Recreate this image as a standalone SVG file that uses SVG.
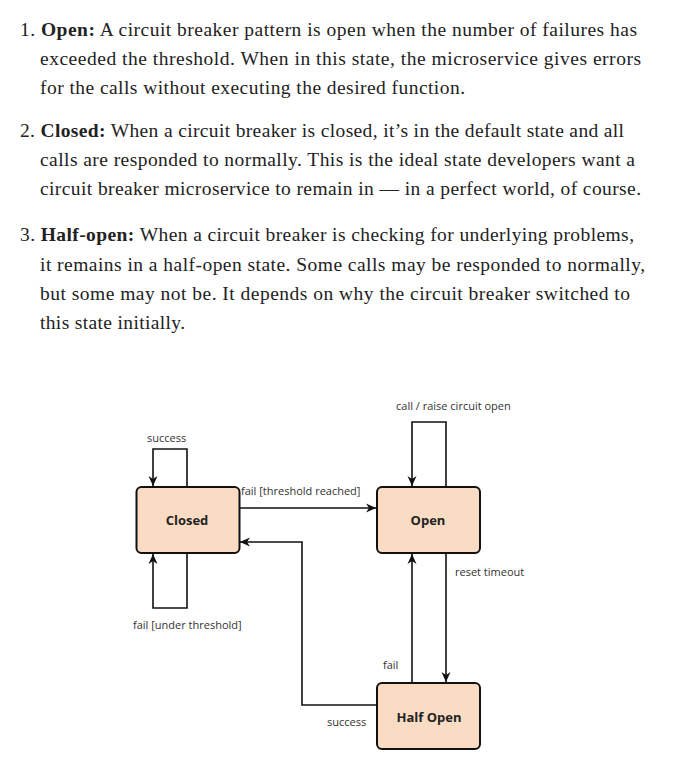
<svg xmlns="http://www.w3.org/2000/svg" width="676" height="775" viewBox="0 0 676 775">
<style>
.p{font-family:"Liberation Serif","DejaVu Serif",serif;font-size:19.5px;fill:#222}
.b{font-weight:bold}
.lbl{font-family:"Open Sans","DejaVu Sans",sans-serif;font-size:11px;fill:#333}
.node rect{fill:#fadcc4;stroke:#111;stroke-width:2}
.node text{font-family:"Open Sans","DejaVu Sans",sans-serif;font-size:13px;font-weight:bold;fill:#222;text-anchor:middle}
.conn path{fill:none;stroke:#111;stroke-width:1.6}
</style>
<defs>
<marker id="ah" markerUnits="userSpaceOnUse" markerWidth="12" markerHeight="12" viewBox="0 0 12 12" refX="11" refY="6" orient="auto">
<path d="M1,1.5 L11,6 L1,10.5 L4,6 z" fill="#111"/>
</marker>
</defs>
<rect width="676" height="775" fill="#fff"/>
<g id="text">
<text class="p" x="20" y="36" textLength="617" lengthAdjust="spacing">1. <tspan class="b">Open:</tspan> A circuit breaker pattern is open when the number of failures has</text>
<text class="p" x="40" y="65" textLength="601" lengthAdjust="spacing">exceeded the threshold. When in this state, the microservice gives errors</text>
<text class="p" x="40" y="94" textLength="425" lengthAdjust="spacing">for the calls without executing the desired function.</text>
<text class="p" x="20" y="137" textLength="604" lengthAdjust="spacing">2. <tspan class="b">Closed:</tspan> When a circuit breaker is closed, it’s in the default state and all</text>
<text class="p" x="40" y="166" textLength="595" lengthAdjust="spacing">calls are responded to normally. This is the ideal state developers want a</text>
<text class="p" x="40" y="195" textLength="601" lengthAdjust="spacing">circuit breaker microservice to remain in — in a perfect world, of course.</text>
<text class="p" x="20" y="241" textLength="614" lengthAdjust="spacing">3. <tspan class="b">Half-open:</tspan> When a circuit breaker is checking for underlying problems,</text>
<text class="p" x="40" y="271" textLength="605" lengthAdjust="spacing">it remains in a half-open state. Some calls may be responded to normally,</text>
<text class="p" x="40" y="300" textLength="590" lengthAdjust="spacing">but some may not be. It depends on why the circuit breaker switched to</text>
<text class="p" x="40" y="329" textLength="145" lengthAdjust="spacing">this state initially.</text>
</g>
<g id="connectors" class="conn">
<path d="M187,487 V449 H153 V486" marker-end="url(#ah)"/>
<path d="M187,553 V608 H153 V554" marker-end="url(#ah)"/>
<path d="M239,508 H376" marker-end="url(#ah)"/>
<path d="M377,705 H302 V542 H240" marker-end="url(#ah)"/>
<path d="M446,487 V422 H412 V486" marker-end="url(#ah)"/>
<path d="M412,683 V554" marker-end="url(#ah)"/>
<path d="M446,553 V682" marker-end="url(#ah)"/>
</g>
<g id="labels">
<text class="lbl" x="147" y="442">success</text>
<text class="lbl" x="241" y="495">fail [threshold reached]</text>
<text class="lbl" x="396" y="410">call / raise circuit open</text>
<text class="lbl" x="133" y="629">fail [under threshold]</text>
<text class="lbl" x="455" y="576">reset timeout</text>
<text class="lbl" x="383" y="669">fail</text>
<text class="lbl" x="327" y="726">success</text>
</g>
<g id="closed" class="node"><rect x="136.5" y="487" width="103" height="66" rx="5"/><text x="187" y="525">Closed</text></g>
<g id="open" class="node"><rect x="377" y="487" width="103" height="66" rx="5"/><text x="428" y="525">Open</text></g>
<g id="halfopen" class="node"><rect x="377" y="683" width="103" height="66" rx="5"/><text x="429" y="722">Half Open</text></g>
</svg>
